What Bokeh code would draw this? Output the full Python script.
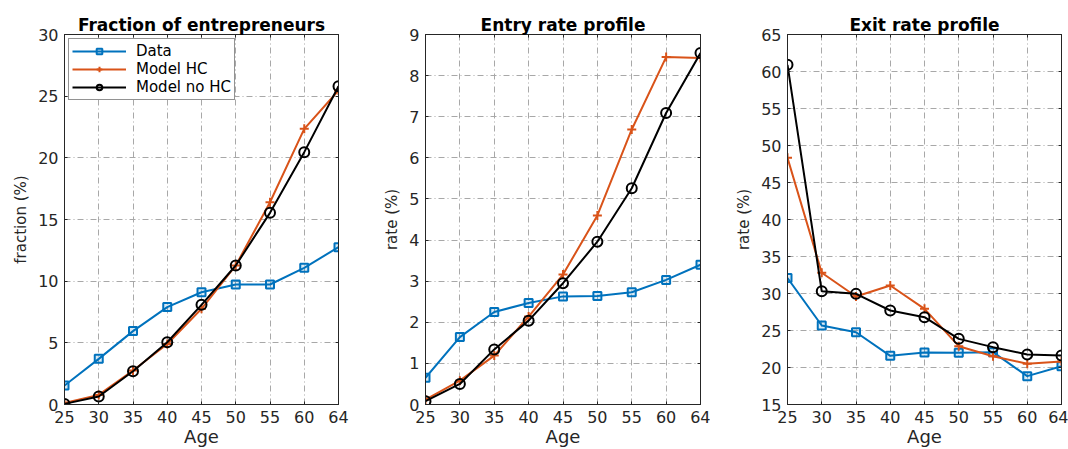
from bokeh.plotting import figure
from bokeh.layouts import row
from bokeh.models import Range1d, FixedTicker, LinearAxis, Legend, LegendItem
from bokeh.embed import file_html
from bokeh.resources import INLINE

ages = ["25", "30", "35", "40", "45", "50", "55", "60", "64"]

frac_data = [1.54, 3.70, 5.95, 7.90, 9.10, 9.73, 9.73, 11.08, 12.76]
frac_hc = [0.13, 0.78, 2.76, 4.90, 7.76, 11.27, 16.40, 22.35, 25.46]
frac_nohc = [0.05, 0.65, 2.70, 5.05, 8.08, 11.27, 15.54, 20.46, 25.80]

entry_data = [0.65, 1.64, 2.25, 2.47, 2.63, 2.64, 2.73, 3.03, 3.40]
entry_hc = [0.12, 0.58, 1.19, 2.14, 3.16, 4.60, 6.69, 8.45, 8.43]
entry_nohc = [0.08, 0.50, 1.34, 2.04, 2.95, 3.96, 5.26, 7.09, 8.55]

exit_data = [32.1, 25.68, 24.77, 21.58, 22.03, 21.98, 22.07, 18.83, 20.18]
exit_hc = [48.33, 32.8, 29.6, 31.08, 27.93, 22.88, 21.53, 20.5, 20.8]
exit_nohc = [60.9, 30.3, 29.95, 27.7, 26.8, 23.87, 22.75, 21.76, 21.62]

titles = ["Fraction of entrepreneurs", "Entry rate profile", "Exit rate profile"]
ylabels = ["fraction (%)", "rate (%)", "rate (%)"]
yranges = [(0, 30, 5), (0, 9, 1), (15, 65, 5)]

BLUE = "#0072BD"
ORANGE = "#D95319"
AXC = "#262626"
FONT = "DejaVu Sans"

x = list(range(len(ages)))
overrides = {i: a for i, a in enumerate(ages)}

layout_specs = [
    dict(left=64, fw=274, right=17),
    dict(left=70, fw=275, right=10),
    dict(left=77, fw=274, right=7),
]
TOP, FH, BOTTOM = 34, 370, 45


def make(i, d, hc, nohc, legend=False):
    spec = layout_specs[i]
    y0, y1, step = yranges[i]
    p = figure(width=spec["left"] + spec["fw"] + spec["right"], height=TOP + FH + BOTTOM,
               output_backend="svg", toolbar_location=None,
               x_range=Range1d(0, len(ages) - 1), y_range=Range1d(y0, y1),
               min_border_left=spec["left"], min_border_right=spec["right"],
               min_border_top=TOP, min_border_bottom=BOTTOM,
               x_axis_location=None, y_axis_location=None)
    p.title.text = titles[i]
    p.title.align = "center"
    p.title.text_font = FONT
    p.title.text_font_size = "17px"
    p.title.text_font_style = "bold"
    p.title.text_color = "black"
    p.title.offset = 0
    p.title.standoff = 0

    yt = FixedTicker(ticks=list(range(y0, y1 + 1, step)))
    xt = FixedTicker(ticks=x)

    def style(ax, labels=True):
        ax.axis_line_color = AXC
        ax.major_tick_in = 3
        ax.major_tick_out = 0
        ax.major_tick_line_color = AXC
        ax.minor_tick_line_color = None
        ax.major_label_text_font = FONT
        ax.major_label_text_font_size = "16px" if labels else "0px"
        ax.major_label_text_color = AXC
        ax.axis_label_text_font = FONT
        ax.axis_label_text_font_style = "normal"
        ax.axis_label_text_color = AXC
        ax.major_label_standoff = 6 if labels else 0

    xb = LinearAxis(ticker=xt, major_label_overrides=overrides, axis_label="Age")
    style(xb)
    xb.major_label_standoff = 6
    xb.axis_label_text_font_size = "18px"
    xb.axis_label_standoff = 0
    p.add_layout(xb, "below")
    xa = LinearAxis(ticker=xt, major_label_overrides={k: "" for k in x})
    style(xa, labels=False)
    p.add_layout(xa, "above")

    yl = LinearAxis(ticker=yt, axis_label=ylabels[i])
    style(yl)
    yl.axis_label_text_font_size = "15px"
    yl.axis_label_standoff = 5
    p.add_layout(yl, "left")
    yr = LinearAxis(ticker=yt, major_label_overrides={k: "" for k in yt.ticks})
    style(yr, labels=False)
    p.add_layout(yr, "right")

    p.xgrid.ticker = xt
    p.ygrid.ticker = yt
    for g in (p.xgrid, p.ygrid):
        g.grid_line_color = "#a8a8a8"
        g.grid_line_dash = "6 3 1 3"
        g.grid_line_width = 1
    p.outline_line_color = AXC
    p.outline_line_width = 1

    r1 = p.line(x, d, line_color=BLUE, line_width=2)
    m1 = p.scatter(x, d, marker="square", size=8, line_color=BLUE, line_width=2,
                   fill_color=BLUE, fill_alpha=0.15)
    r2 = p.line(x, hc, line_color=ORANGE, line_width=2)
    m2 = p.scatter(x, hc, marker="cross", size=9, line_color=ORANGE, line_width=2)
    r3 = p.line(x, nohc, line_color="black", line_width=2)
    m3 = p.scatter(x, nohc, marker="circle", size=10, line_color="black", line_width=2,
                   fill_color=None)

    if legend:
        leg = Legend(items=[
            LegendItem(label="Data", renderers=[r1, m1]),
            LegendItem(label="Model HC", renderers=[r2, m2]),
            LegendItem(label="Model no HC", renderers=[r3, m3]),
        ], location="top_left")
        leg.label_text_font = FONT
        leg.label_text_font_size = "15px"
        leg.label_text_color = "black"
        leg.border_line_color = AXC
        leg.border_line_width = 1
        leg.margin = 4
        leg.padding = 3
        leg.spacing = 0
        leg.label_height = 14
        leg.glyph_height = 14
        leg.glyph_width = 54
        leg.label_standoff = 10
        leg.background_fill_alpha = 1
        p.add_layout(leg)
    return p


p1 = make(0, frac_data, frac_hc, frac_nohc, legend=True)
p2 = make(1, entry_data, entry_hc, entry_nohc)
p3 = make(2, exit_data, exit_hc, exit_nohc)

p = row(p1, p2, p3)
p.spacing = 0
open("out.html", "w").write(file_html(p, INLINE))
